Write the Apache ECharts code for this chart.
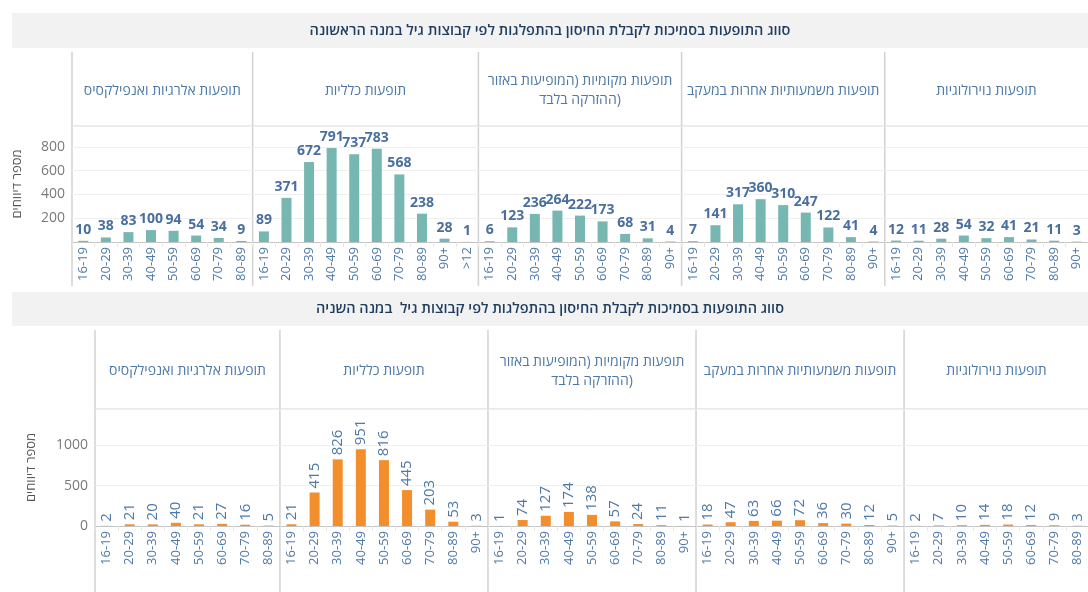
<!DOCTYPE html>
<html>
<head>
<meta charset="utf-8">
<script src="https://cdn.jsdelivr.net/npm/echarts@6/dist/echarts.min.js"></script>
<style>
  html, body { margin: 0; padding: 0; background: #fff; }
  #main { width: 1088px; height: 592px; }
</style>
</head>
<body>
<div id="main"></div>
<script>
// קבוצות גיל
var ages8 = ['16-19', '20-29', '30-39', '40-49', '50-59', '60-69', '70-79', '80-89']
var ages9 = ages8.concat(['90+'])
var ages10 = ages9.concat(['>12'])

var panelNames = [
  'תופעות אלרגיות ואנפילקסיס',
  'תופעות כלליות',
  'תופעות מקומיות (המופיעות באזור\nההזרקה בלבד)',
  'תופעות משמעותיות אחרות במעקב',
  'תופעות נוירולוגיות'
]

var title1 = 'סווג התופעות בסמיכות לקבלת החיסון בהתפלגות לפי קבוצות גיל במנה הראשונה'
var title2 = 'סווג התופעות בסמיכות לקבלת החיסון בהתפלגות לפי קבוצות גיל  במנה השניה'
var yName = 'מספר דיווחים'

// מנה ראשונה
var dose1Allergic = [10, 38, 83, 100, 94, 54, 34, 9]
var dose1General = [89, 371, 672, 791, 737, 783, 568, 238, 28, 1]
var dose1Local = [6, 123, 236, 264, 222, 173, 68, 31, 4]
var dose1Other = [7, 141, 317, 360, 310, 247, 122, 41, 4]
var dose1Neuro = [12, 11, 28, 54, 32, 41, 21, 11, 3]

// מנה שניה
var dose2Allergic = [2, 21, 20, 40, 21, 27, 16, 5]
var dose2General = [21, 415, 826, 951, 816, 445, 203, 53, 3]
var dose2Local = [1, 74, 127, 174, 138, 57, 24, 11, 1]
var dose2Other = [18, 47, 63, 66, 72, 36, 30, 12, 5]
var dose2Neuro = [2, 7, 10, 14, 18, 12, 9, 3]

var font = "'Open Sans', 'DejaVu Sans', sans-serif"
var blue = '#4e79a7'

var rows = [
  {
    barTop: 52, headTop: 126, plotH: 116, bottom: 286, left: 72, right: 1088,
    max: 975, interval: 200, color: '#76b7b2', nameGap: 48,
    titleY: 13, titleH: 35, title: title1, rotateLabel: false,
    panels: [[ages8, dose1Allergic], [ages10, dose1General], [ages9, dose1Local], [ages9, dose1Other], [ages9, dose1Neuro]]
  },
  {
    barTop: 330, headTop: 409, plotH: 117, bottom: 592, left: 95, right: 1089,
    max: 1450, interval: 500, color: '#f28e2b', nameGap: 57,
    titleY: 292, titleH: 34, title: title2, rotateLabel: true,
    panels: [[ages8, dose2Allergic], [ages9, dose2General], [ages9, dose2Local], [ages9, dose2Other], [ages8, dose2Neuro]]
  }
]

var grid = [], xAxis = [], yAxis = [], series = [], graphic = []

rows.forEach(function (row) {
  var total = 0
  row.panels.forEach(function (p) { total += p[0].length })
  var catW = (row.right - row.left) / total
  var x = row.left

  // פס כותרת אפור
  graphic.push({ type: 'rect', shape: { x: 12, y: row.titleY, width: 1076, height: row.titleH }, style: { fill: '#f2f2f2' } })
  graphic.push({ type: 'text', x: 550, y: row.titleY + row.titleH / 2, style: { text: row.title, font: '600 14.5px ' + font, fill: '#1f3d5e', textAlign: 'center', textVerticalAlign: 'middle' } })
  // קו מתחת לכותרות הפאנלים
  graphic.push({ type: 'line', shape: { x1: row.left, y1: row.headTop, x2: 1088, y2: row.headTop }, style: { stroke: '#d6d6d6', lineWidth: 1 } })

  row.panels.forEach(function (p, i) {
    var w = p[0].length * catW
    var idx = grid.length
    grid.push({ left: x, top: row.headTop, width: w, height: row.plotH, containLabel: false, outerBoundsMode: 'none' })

    graphic.push({ type: 'line', shape: { x1: x, y1: row.barTop, x2: x, y2: row.bottom }, style: { stroke: '#d2d2d2', lineWidth: 1.5 } })
    graphic.push({ type: 'text', x: x + w / 2, y: (row.barTop + row.headTop) / 2 + 2, style: { text: panelNames[i], font: '14px ' + font, fill: blue, textAlign: 'center', textVerticalAlign: 'middle', lineHeight: 19 } })

    xAxis.push({
      type: 'category', gridIndex: idx, data: p[0],
      axisLine: { lineStyle: { color: '#c4c4c4' } },
      axisTick: { show: true, interval: 0, length: 5, lineStyle: { color: '#e6e6e6' } },
      axisLabel: { interval: 0, rotate: 90, margin: 5, color: blue, fontSize: 13, fontFamily: font }
    })
    yAxis.push({
      type: 'value', gridIndex: idx, min: 0, max: row.max, interval: row.interval,
      name: i === 0 ? yName : '', nameLocation: 'middle', nameRotate: 90, nameGap: row.nameGap,
      nameTextStyle: { color: '#555', fontSize: 13, fontFamily: font },
      axisLine: { show: false }, axisTick: { show: false },
      axisLabel: {
        show: i === 0, color: '#7a7a7a', fontSize: 14, fontFamily: font, margin: 7,
        formatter: function (v) {
          if (v % row.interval !== 0) return ''
          if (!row.rotateLabel && v === 0) return ''
          return v
        }
      },
      splitLine: { lineStyle: { color: '#efefef' } }
    })
    series.push({
      type: 'bar', xAxisIndex: idx, yAxisIndex: idx, data: p[1], barWidth: 10,
      itemStyle: { color: row.color },
      label: row.rotateLabel
        ? { show: true, position: 'top', rotate: 90, align: 'left', verticalAlign: 'middle', distance: 4, color: blue, fontSize: 15, fontFamily: font }
        : { show: true, position: 'top', distance: 4, color: '#4a6f9f', fontSize: 14, fontWeight: 'bold', fontFamily: font },
      animation: false
    })
    x += w
  })
})

var myChart = echarts.init(document.getElementById('main'))
myChart.setOption({
  animation: false,
  textStyle: { fontFamily: font },
  grid: grid,
  xAxis: xAxis,
  yAxis: yAxis,
  series: series,
  graphic: graphic
})
</script>
</body>
</html>
